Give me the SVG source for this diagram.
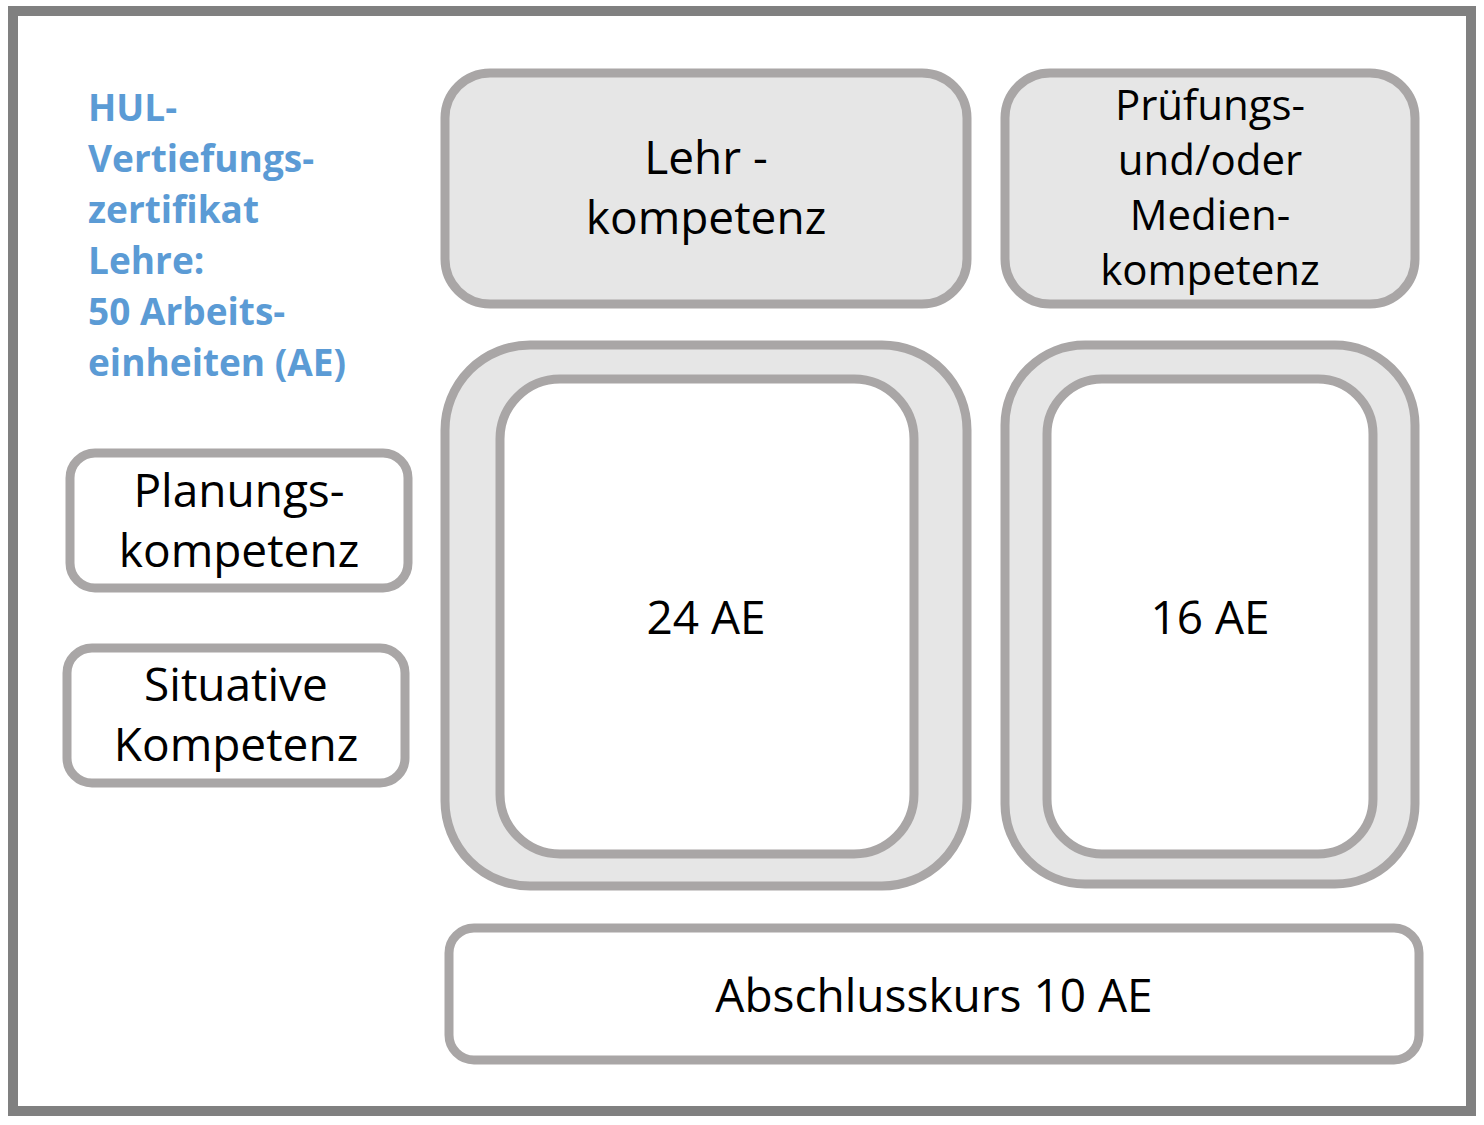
<svg xmlns="http://www.w3.org/2000/svg" width="1484" height="1125" viewBox="0 0 1484 1125">
<style>
.b{stroke:#A9A6A6;stroke-width:9;}
.g{fill:#E6E6E6;}
.w{fill:#FFFFFF;}
.t{font-family:"Open Sans","Noto Sans",sans-serif;font-size:46px;fill:#000;text-anchor:middle;}
.h{font-family:"Open Sans","Noto Sans",sans-serif;font-size:37px;font-weight:bold;fill:#5B9BD5;}
</style>
<rect x="0" y="0" width="1484" height="1125" fill="#fff"/>
<rect x="13" y="11" width="1458" height="1100" fill="#fff" stroke="#808080" stroke-width="10"/>
<g id="title"><text class="h"><tspan x="88" y="121">HUL-</tspan><tspan x="88" y="172">Vertiefungs-</tspan><tspan x="88" y="223">zertifikat</tspan><tspan x="88" y="274">Lehre:</tspan><tspan x="88" y="325">50 Arbeits-</tspan><tspan x="88" y="376">einheiten (AE)</tspan></text></g>
<g id="lehr"><rect class="b g" x="445" y="73" width="522" height="231" rx="45"/><text class="t"><tspan x="706" y="174">Lehr -</tspan><tspan x="706" y="234">kompetenz</tspan></text></g>
<g id="pruef"><rect class="b g" x="1005" y="73" width="410" height="231" rx="45"/><text class="t" style="font-size:42px"><tspan x="1210" y="120">Prüfungs-</tspan><tspan x="1210" y="175">und/oder</tspan><tspan x="1210" y="230">Medien-</tspan><tspan x="1210" y="285">kompetenz</tspan></text></g>
<g id="lehr24"><rect class="b g" x="445" y="345" width="522" height="541" rx="85"/><rect class="b w" x="500" y="379" width="414" height="475" rx="60"/><text class="t" x="706" y="634">24 AE</text></g>
<g id="pruef16"><rect class="b g" x="1005" y="345" width="410" height="539" rx="80"/><rect class="b w" x="1047" y="379" width="326" height="475" rx="55"/><text class="t" x="1210" y="634">16 AE</text></g>
<g id="abschluss"><rect class="b w" x="449" y="928" width="970" height="132" rx="25"/><text class="t" x="934" y="1012">Abschlusskurs 10 AE</text></g>
<g id="planung"><rect class="b w" x="70" y="453" width="338" height="135" rx="25"/><text class="t"><tspan x="239" y="507">Planungs-</tspan><tspan x="239" y="567">kompetenz</tspan></text></g>
<g id="situativ"><rect class="b w" x="67" y="648" width="338" height="135" rx="25"/><text class="t"><tspan x="236" y="701">Situative</tspan><tspan x="236" y="761">Kompetenz</tspan></text></g>
<g id="connectors"/>
</svg>
